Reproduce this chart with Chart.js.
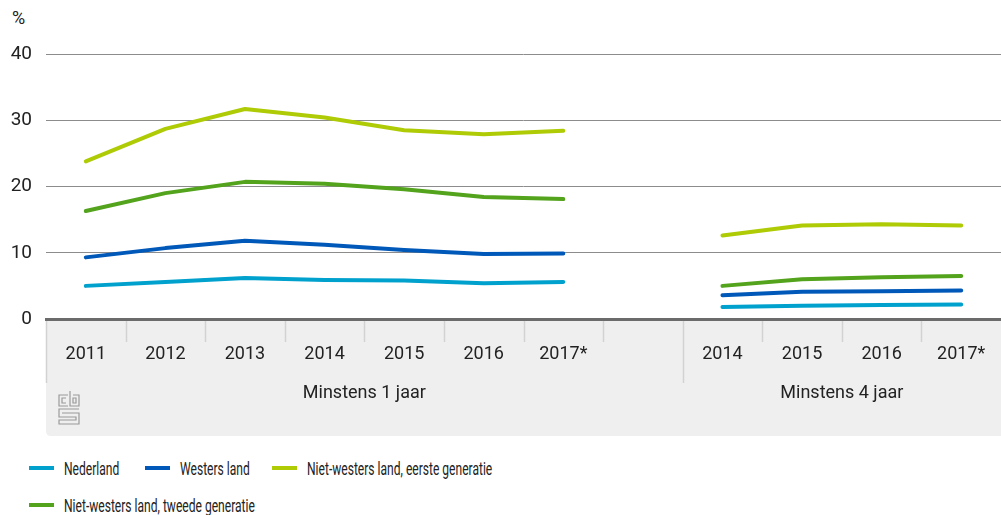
<!DOCTYPE html>
<html>
<head>
<meta charset="utf-8">
<script src="https://cdn.jsdelivr.net/npm/chart.js@4/dist/chart.umd.min.js"></script>
<style>
  body { margin: 0; background: #fff; font-family: Roboto, sans-serif; }
  #wrap { position: relative; width: 1001px; height: 515px; }
  #box { position: absolute; left: 0; top: 0; width: 1001px; height: 445px; }
  #unit { position: absolute; left: 12px; top: 7px; font-size: 18px; color: #222; }
  .leg { position: absolute; height: 20px; display: flex; align-items: center; white-space: nowrap; }
  .leg i { display: inline-block; width: 25px; height: 4px; margin-right: 10px; }
  .leg span { display: inline-block; font-size: 19px; color: #222; transform: scaleX(0.635); transform-origin: left center; }
</style>
</head>
<body>
<div id="wrap">
  <div id="unit">%</div>
  <div id="box"><canvas id="chart"></canvas></div>
  <div id="legend"></div>
</div>
<script>
const labels = ['2011', '2012', '2013', '2014', '2015', '2016', '2017*', '', '2014', '2015', '2016', '2017*'];
const groups = [
  { label: 'Minstens 1 jaar', from: 0, to: 7 },
  { label: 'Minstens 4 jaar', from: 8, to: 11 }
];
const yTicks = [0, 10, 20, 30, 40];

const nederland = [5.0, 5.6, 6.2, 5.9, 5.8, 5.4, 5.6, null, 1.8, 2.0, 2.1, 2.2];
const westers = [9.3, 10.7, 11.8, 11.2, 10.4, 9.8, 9.9, null, 3.6, 4.1, 4.2, 4.3];
const eerste = [23.8, 28.7, 31.7, 30.4, 28.5, 27.9, 28.4, null, 12.6, 14.1, 14.3, 14.1];
const tweede = [16.3, 19.0, 20.7, 20.4, 19.6, 18.4, 18.1, null, 5.0, 6.0, 6.3, 6.5];

const series = [
  { name: 'Nederland', data: nederland, color: '#00a1cd' },
  { name: 'Westers land', data: westers, color: '#0058b8' },
  { name: 'Niet-westers land, eerste generatie', data: eerste, color: '#afcb05' },
  { name: 'Niet-westers land, tweede generatie', data: tweede, color: '#53a31d' }
];

// grey band under the axis, separators, group labels and logo
const bandPlugin = {
  id: 'band',
  beforeDraw(chart) {
    const { ctx, chartArea: a, scales: { x } } = chart;
    const top = a.bottom + 1;
    const bot = a.bottom + 117;
    ctx.save();
    ctx.fillStyle = '#efefef';
    ctx.beginPath();
    ctx.moveTo(a.left, top);
    ctx.lineTo(a.right, top);
    ctx.lineTo(a.right, bot);
    ctx.lineTo(a.left + 5, bot);
    ctx.quadraticCurveTo(a.left, bot, a.left, bot - 5);
    ctx.closePath();
    ctx.fill();

    const edge = i => i === 0 ? a.left : (i >= labels.length ? a.right : (x.getPixelForValue(i - 1) + x.getPixelForValue(i)) / 2);
    const starts = groups.map(g => g.from);
    ctx.strokeStyle = '#d2d2d2';
    ctx.lineWidth = 1.5;
    for (let i = 0; i < labels.length; i++) {
      const xb = Math.round(edge(i)) + 0.5;
      ctx.beginPath();
      ctx.moveTo(xb, top);
      ctx.lineTo(xb, starts.includes(i) ? a.bottom + 64 : a.bottom + 23);
      ctx.stroke();
    }

    ctx.fillStyle = '#222';
    ctx.font = '18px Roboto';
    ctx.textAlign = 'center';
    ctx.textBaseline = 'middle';
    groups.forEach(g => {
      ctx.fillText(g.label, (edge(g.from) + edge(g.to + 1)) / 2, a.bottom + 74);
    });

    // cbs logo
    const lx = a.left + 13, ly = a.bottom + 76;
    ctx.strokeStyle = '#9a9a9a';
    ctx.lineWidth = 1.2;
    ctx.beginPath();
    ctx.moveTo(lx + 9, ly); ctx.lineTo(lx, ly); ctx.lineTo(lx, ly + 11); ctx.lineTo(lx + 9, ly + 11);
    ctx.moveTo(lx + 7, ly + 3); ctx.lineTo(lx + 3, ly + 3); ctx.lineTo(lx + 3, ly + 8); ctx.lineTo(lx + 7, ly + 8);
    ctx.moveTo(lx + 11, ly - 4); ctx.lineTo(lx + 11, ly + 11); ctx.lineTo(lx + 20, ly + 11); ctx.lineTo(lx + 20, ly); ctx.lineTo(lx + 14, ly);
    ctx.rect(lx + 14, ly + 3, 3, 5);
    ctx.moveTo(lx + 20, ly + 14); ctx.lineTo(lx, ly + 14); ctx.lineTo(lx, ly + 22); ctx.lineTo(lx + 17, ly + 22);
    ctx.lineTo(lx + 17, ly + 25); ctx.lineTo(lx, ly + 25); ctx.lineTo(lx, ly + 29); ctx.lineTo(lx + 20, ly + 29);
    ctx.lineTo(lx + 20, ly + 18); ctx.lineTo(lx + 3, ly + 18);
    ctx.stroke();
    ctx.restore();
  }
};

new Chart(document.getElementById('chart'), {
  type: 'line',
  data: {
    labels: labels,
    datasets: series.map(s => ({
      label: s.name,
      data: s.data,
      borderColor: s.color,
      backgroundColor: s.color,
      borderWidth: 4,
      borderCapStyle: 'round',
      borderJoinStyle: 'round',
      pointRadius: 0,
      tension: 0,
      spanGaps: false
    }))
  },
  options: {
    responsive: true,
    maintainAspectRatio: false,
    animation: false,
    layout: { padding: { top: 54, right: 0, left: 0, bottom: 0 } },
    plugins: { legend: { display: false }, tooltip: { enabled: false } },
    scales: {
      x: {
        offset: true,
        grid: { display: false, drawTicks: false, tickLength: 0 },
        border: { display: true, color: '#6b6b6b', width: 3 },
        ticks: { color: '#222', font: { family: 'Roboto', size: 18 }, padding: 25, maxRotation: 0, autoSkip: false },
        afterFit: s => { s.height = 126; s.paddingLeft = 0; s.paddingRight = 0; }
      },
      y: {
        min: 0,
        max: 40,
        afterBuildTicks: s => { s.ticks = yTicks.map(v => ({ value: v })); },
        grid: { color: ctx => ctx.tick && ctx.tick.value === 0 ? 'rgba(0,0,0,0)' : '#8c8c8c', lineWidth: 1, drawTicks: false, tickLength: 0 },
        border: { display: false },
        ticks: { color: '#222', font: { family: 'Roboto', size: 19 }, padding: 14 },
        afterFit: s => { s.width = 46; }
      }
    }
  },
  plugins: [bandPlugin]
});

// legend below the chart
const legendPos = [[29, 458], [145, 458], [272, 458], [29, 495]];
const legend = document.getElementById('legend');
series.forEach((s, i) => {
  const d = document.createElement('div');
  d.className = 'leg';
  d.style.left = legendPos[i][0] + 'px';
  d.style.top = legendPos[i][1] + 'px';
  d.innerHTML = '<i style="background:' + s.color + '"></i><span>' + s.name + '</span>';
  legend.appendChild(d);
});
</script>
</body>
</html>
